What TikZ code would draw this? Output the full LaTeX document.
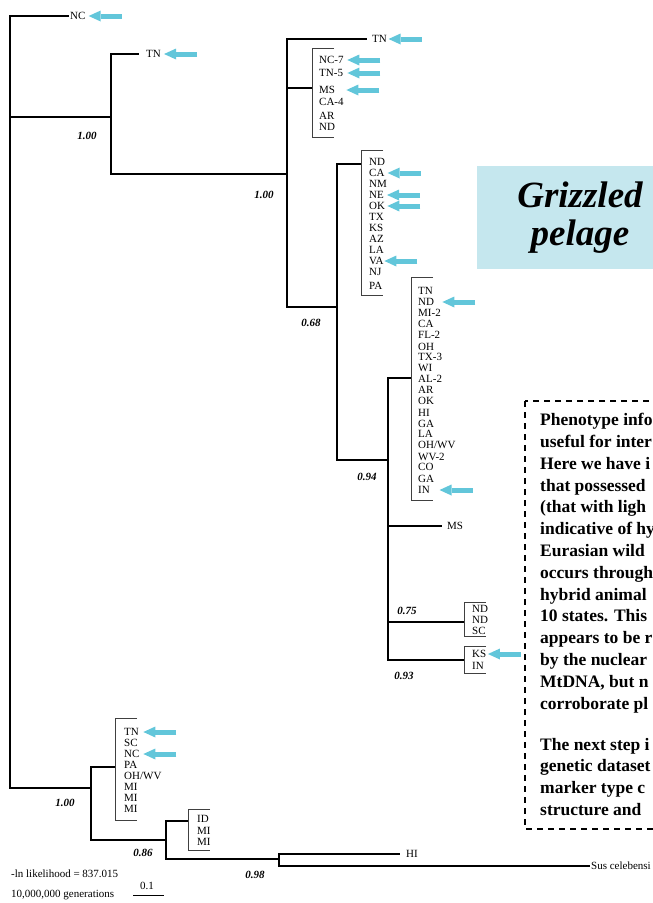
\documentclass[tikz,border=0pt]{standalone}
\usepackage{fontspec}
\setmainfont{Liberation Serif}
\usetikzlibrary{arrows.meta,calc}

\definecolor{flagblue}{RGB}{98,198,218}
\definecolor{boxblue}{RGB}{197,231,238}

\newcommand{\flagto}[2][1.5]{\draw[flag] ($(#2.east)+(#1+33,0)$) -- ($(#2.east)+(#1,0)$);}
\newcommand{\cladebar}[3]{\draw[bar] (#1+22,#2) -| (#1,#3) -- ++(22,0);}

\begin{document}
\begin{tikzpicture}[x=1pt,y=-1pt,
  branch/.style={line width=1.1pt},
  bar/.style={line width=1pt,black!75},
  leaf/.style={anchor=west,inner sep=1.5pt,text height=7.3pt,text depth=0pt,font=\fontsize{11}{11}\selectfont},
  support/.style={font=\fontsize{11}{11}\selectfont\bfseries\itshape},
  flag/.style={flagblue,line width=5pt,-{Triangle[length=12pt,width=11pt,line width=0pt]}},
  note/.style={anchor=base west,inner sep=0pt,font=\fontsize{17.5}{21.8}\selectfont\bfseries}]
  \useasboundingbox (0,0) rectangle (653,903);
  \clip (0,0) rectangle (653,903);

  \node[fill=boxblue,minimum width=206pt,minimum height=103pt,align=center,
    font=\fontsize{37}{38}\selectfont\bfseries\itshape] (griz) at (580,217.5) {Grizzled\\pelage};
  \draw[line width=1.2pt,dash pattern=on 6pt off 5pt] (525,401) rectangle (720,829);
  \foreach \lab [count=\i] in {Phenotype info,useful for inter,Here we have i,that possessed,
    {{(}that with ligh},indicative of hy,Eurasian wild,occurs through,hybrid animal,
    10 states. This,appears to be r,by the nuclear,{MtDNA, but n},corroborate pl}
    \node[note] (n\i) at (540,403.9+21.8*\i) {\lab};
  \foreach \lab [count=\i from 15] in {The next step i,genetic dataset,marker type c,structure and}
    \node[note] (n\i) at (540,423+21.8*\i) {\lab};

  \coordinate (root) at (10,117);
  \coordinate (nA) at (111,117);
  \coordinate (nB) at (91,788);
  \coordinate (nC) at (287,174);
  \coordinate (nD) at (337,307);
  \coordinate (nE) at (388,460);
  \coordinate (nF) at (166,840);
  \coordinate (nG) at (279,859);
  \coordinate (kA) at (312,88);
  \coordinate (kB) at (361,164);
  \coordinate (kC) at (411,378);
  \coordinate (kD) at (464,622);
  \coordinate (kE) at (464,660);
  \coordinate (kF) at (115,767);
  \coordinate (kG) at (188,821);

  \node[leaf] (ncT) at (68.5,16) {NC};
  \node[leaf] (tnB) at (144.5,54) {TN};
  \node[leaf] (tnA) at (370.5,39) {TN};
  \node[leaf] (ms) at (445.5,526) {MS};
  \node[leaf] (hi) at (404.5,854) {HI};
  \node[leaf] (sus) at (589.5,866) {Sus celebensi};

  \foreach \yy/\lab [count=\i] in {60/NC-7,73/TN-5,90/MS,102/CA-4,116/AR,127/ND}
    \node[leaf] (a\i) at (317.5,\yy) {\lab};
  \foreach \yy/\lab [count=\i] in {162/ND,173/CA,184/NM,195/NE,206/OK,217/TX,228/KS,
    239/AZ,250/LA,261/VA,272/NJ,286/PA}
    \node[leaf] (b\i) at (367.5,\yy) {\lab};
  \foreach \yy/\lab [count=\i] in {291/TN,302/ND,313/MI-2,324/CA,335/FL-2,347/OH,357/TX-3,
    368/WI,379/AL-2,390/AR,401/OK,413/HI,424/GA,434/LA,445/{OH/WV},457/WV-2,467/CO,479/GA,490/IN}
    \node[leaf] (c\i) at (416.5,\yy) {\lab};
  \foreach \yy/\lab [count=\i] in {609/ND,620/ND,631/SC}
    \node[leaf] (d\i) at (470.5,\yy) {\lab};
  \foreach \yy/\lab [count=\i] in {654/KS,666/IN}
    \node[leaf] (e\i) at (470.5,\yy) {\lab};
  \foreach \yy/\lab [count=\i] in {732/TN,743/SC,754/NC,765/PA,776/{OH/WV},787/MI,798/MI,809/MI}
    \node[leaf] (f\i) at (122.5,\yy) {\lab};
  \foreach \yy/\lab [count=\i] in {819/ID,831/MI,842/MI}
    \node[leaf] (g\i) at (195.5,\yy) {\lab};

  \draw[branch] (root) |- (ncT) (root) |- (nA) (root) |- (nB);
  \draw[branch] (nA) |- ([xshift=-5.5pt]tnB.west) (nA) |- (nC);
  \draw[branch] (nC) |- ([xshift=-3.5pt]tnA.west) (nC) |- (kA) (nC) |- (nD);
  \draw[branch] (nD) |- (kB) (nD) |- (nE);
  \draw[branch] (nE) |- (kC) (nE) |- ([xshift=-3.5pt]ms.west) (nE) |- (kD) (nE) |- (kE);
  \draw[branch] (nB) |- (kF) (nB) |- (nF);
  \draw[branch] (nF) |- (kG) (nF) |- (nG);
  \draw[branch] (nG) |- ([xshift=-4.5pt]hi.west) (nG) |- (sus);

  \cladebar{312}{48}{137}
  \cladebar{361}{150}{295}
  \cladebar{411}{277}{500}
  \cladebar{464}{602}{636}
  \cladebar{464}{646}{673}
  \cladebar{115}{718}{820}
  \cladebar{188}{809}{850}

  \node[support] (s1) at (87,136) {1.00};
  \node[support] (s2) at (264,195) {1.00};
  \node[support] (s3) at (311,323) {0.68};
  \node[support] (s4) at (367,477) {0.94};
  \node[support] (s5) at (407,611) {0.75};
  \node[support] (s6) at (404,676) {0.93};
  \node[support] (s7) at (65,803) {1.00};
  \node[support] (s8) at (143,853) {0.86};
  \node[support] (s9) at (255,875) {0.98};

  \flagto{ncT} \flagto{tnB} \flagto[0]{tnA}
  \flagto[2]{a1} \flagto[2.7]{a2} \flagto[9.6]{a3}
  \flagto{b2} \flagto{b4} \flagto[0.6]{b5} \flagto[-1]{b10}
  \flagto[6.6]{c2} \flagto[8]{c19}
  \flagto[0]{e1}
  \flagto[2.8]{f1} \flagto[2.2]{f3}

  \node[leaf] (lnl) at (9.5,874) {-ln likelihood = 837.015};
  \node[leaf] (gens) at (9.5,894) {10,000,000 generations};
  \coordinate (sb0) at (133,895);
  \coordinate (sb1) at (164,895);
  \draw[line width=1pt] (sb0) -- (sb1);
  \node[font=\fontsize{11}{11}\selectfont] (sbl) at (147,886) {0.1};
\end{tikzpicture}
\end{document}
